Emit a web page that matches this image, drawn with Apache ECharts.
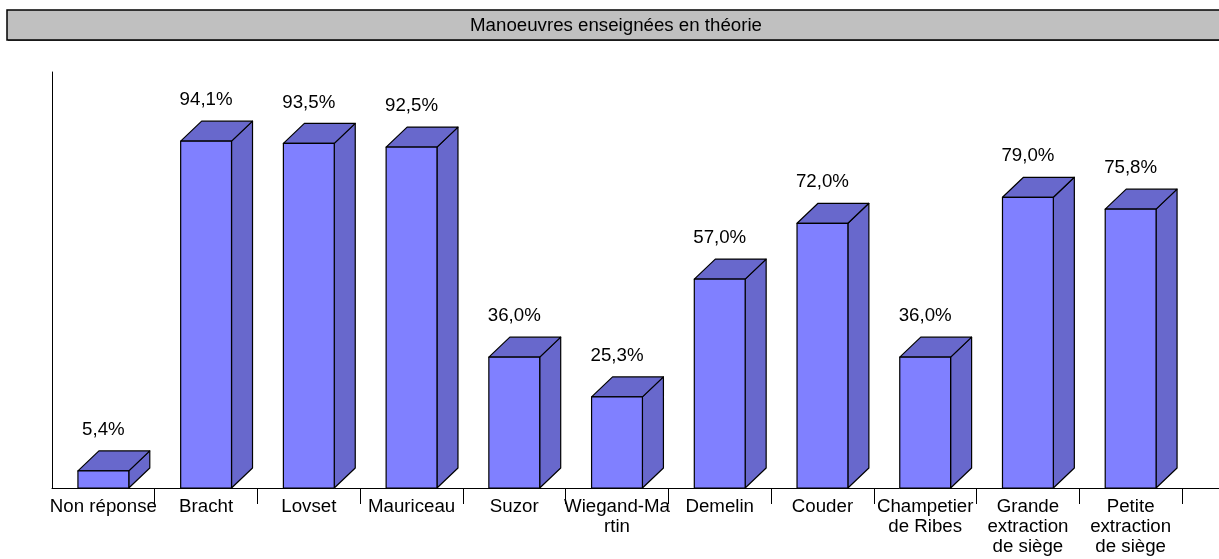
<!DOCTYPE html>
<html>
<head>
<meta charset="utf-8">
<script src="https://cdn.jsdelivr.net/npm/echarts@6/dist/echarts.min.js"></script>
<style>
html,body{margin:0;padding:0;background:#fff;}
#chart{width:1219px;height:559px;}
</style>
</head>
<body>
<div id="chart"></div>
<script>
const titleText = 'Manoeuvres enseignées en théorie';
const categories = ['Non réponse', 'Bracht', 'Lovset', 'Mauriceau', 'Suzor', 'Wiegand-Martin', 'Demelin', 'Couder', 'Champetier de Ribes', 'Grande extraction de siège', 'Petite extraction de siège'];
const tickLabels = ['Non réponse', 'Bracht', 'Lovset', 'Mauriceau', 'Suzor', 'Wiegand-Ma\nrtin', 'Demelin', 'Couder', 'Champetier\nde Ribes', 'Grande\nextraction\nde siège', 'Petite\nextraction\nde siège'];
const values = [5.4, 94.1, 93.5, 92.5, 36.0, 25.3, 57.0, 72.0, 36.0, 79.0, 75.8];

const Y_MIN = 0.8, Y_MAX = 112.7;
const FONT = 'Arial, "Liberation Sans", sans-serif';
const FS = 18.7;
const DX = 21, DY = 20;

const chart = echarts.init(document.getElementById('chart'));

function fmt(v){ return v.toFixed(1).replace('.', ',') + '%'; }

const option = {
  animation: false,
  backgroundColor: '#fff',
  title: {
    text: titleText, left: 616, top: 16, textAlign: 'center', padding: 0,
    textStyle: {fontFamily: FONT, fontSize: FS, fontWeight: 'normal', color: '#000', lineHeight: 20}
  },
  grid: {left: 52, top: 72, right: 37, bottom: 71, containLabel: false},
  xAxis: {
    type: 'category', data: categories, boundaryGap: true,
    axisLine: {show: true, lineStyle: {color: '#000', width: 1}},
    axisTick: {show: true, length: 16, lineStyle: {color: '#000', width: 1}, interval: function(i){ return i > 0; }},
    axisLabel: {
      interval: 0, margin: 9, color: '#000', fontFamily: FONT, fontSize: FS, lineHeight: 20,
      formatter: function(v, i){ return tickLabels[i]; }
    }
  },
  yAxis: {
    type: 'value', min: Y_MIN, max: Y_MAX,
    axisLine: {show: true, lineStyle: {color: '#000', width: 1}},
    axisTick: {show: false}, axisLabel: {show: false}, splitLine: {show: false}
  },
  series: [{
    type: 'custom',
    data: values.map((v, i) => [i, v]),
    clip: false,
    renderItem: function(params, api){
      const i = api.value(0), v = api.value(1);
      const top = api.coord([i, v]);
      const base = api.coord([i, Y_MIN]);
      const bw = api.size([1, 0])[0] * 0.495;
      const x0 = top[0] - bw / 2, x1 = top[0] + bw / 2;
      const yt = top[1], yb = base[1];
      const stroke = {stroke: '#000', lineWidth: 1.2, lineJoin: 'round'};
      return {
        type: 'group',
        children: [
          {type: 'polygon', shape: {points: [[x1, yt], [x1 + DX, yt - DY], [x1 + DX, yb - DY], [x1, yb]]},
            style: Object.assign({fill: '#6868CC'}, stroke)},
          {type: 'polygon', shape: {points: [[x0, yt], [x0 + DX, yt - DY], [x1 + DX, yt - DY], [x1, yt]]},
            style: Object.assign({fill: '#6868CC'}, stroke)},
          {type: 'rect', shape: {x: x0, y: yt, width: bw, height: yb - yt},
            style: Object.assign({fill: '#8080FF'}, stroke)},
          {type: 'text', x: top[0], y: yt - 41,
            style: {text: fmt(v), fill: '#000', font: FS + 'px ' + FONT, align: 'center', verticalAlign: 'middle'}}
        ]
      };
    }
  }]
};
chart.setOption(option);

// title box and axis-line continuation
const gridRight = chart.convertToPixel({xAxisIndex: 0}, categories.length - 1) + chart.getModel().getComponent('xAxis', 0).axis.getBandWidth() / 2;
const axisY = chart.convertToPixel({yAxisIndex: 0}, Y_MIN);
chart.setOption({
  graphic: [
    {type: 'rect', z: -1, shape: {x: 8, y: 11, width: 1240, height: 30}, style: {fill: '#666', stroke: null}},
    {type: 'rect', z: -1, shape: {x: 7, y: 10, width: 1240, height: 30}, style: {fill: '#C0C0C0', stroke: '#000', lineWidth: 1.5}},
    {type: 'line', shape: {x1: gridRight, y1: axisY + 0.5, x2: 1219, y2: axisY + 0.5}, style: {stroke: '#000', lineWidth: 1}}
  ]
});
</script>
</body>
</html>
